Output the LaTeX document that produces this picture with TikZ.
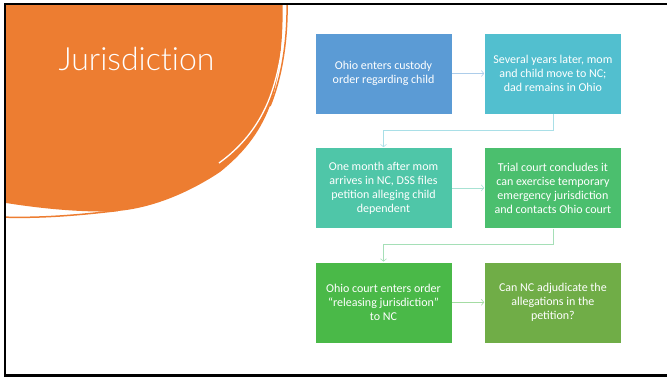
\documentclass[tikz,border=0pt]{standalone}
\usepackage{fontspec}
\setmainfont{Carlito}
\newfontfamily\titlefont{Lato Light}[Ligatures=NoCommon]
\usepackage{tikz}
\usetikzlibrary{positioning, arrows.meta}
\definecolor{jorange}{RGB}{237, 125, 49}
\definecolor{jblue}{RGB}{91, 155, 213}
\definecolor{jcyan}{RGB}{82, 191, 207}
\definecolor{jteal}{RGB}{79, 198, 168}
\definecolor{jmint}{RGB}{75, 191, 110}
\definecolor{jgreen}{RGB}{74, 185, 72}
\definecolor{jolive}{RGB}{112, 173, 71}
\tikzset{
  card/.style={minimum width=137pt, minimum height=81pt, inner sep=0pt, align=center,
    text=white, font=\fontsize{12}{14}\selectfont, draw=white, line width=0.4pt},
  link/.style={line width=0.6pt, -{Straight Barb[length=2.5pt, width=6pt]}}
}

\begin{document}
\begin{tikzpicture}[x=1pt, y=-1pt]
\newcommand{\cardgap}{32pt}
\newcommand{\rowgap}{33pt}
\useasboundingbox (0, 0) rectangle (667, 378);
\begin{scope}
\clip (5, 4) rectangle (667, 375);
\fill[jorange] (0, 0) -- (282.5, 0) .. controls (283.5, 40) and (279, 75) .. (272, 100)
  .. controls (262, 130) and (245, 152) .. (220, 172)
  .. controls (190, 192) and (150, 210) .. (110, 211.5)
  .. controls (70, 212) and (30, 207) .. (0, 202) -- cycle;
\draw[white, line width=1.3pt] (284.5, 0) .. controls (285.5, 45) and (277, 80) .. (268, 102)
  .. controls (257, 128) and (240, 148) .. (219, 163);
\draw[jorange, line width=1.5pt] (287, 0) .. controls (288, 45) and (280, 82) .. (270, 106);
\draw[jorange, line width=1.5pt] (0, 217) .. controls (40, 218.5) and (80, 215) .. (118, 210.5);
\end{scope}
\draw[line width=2.5pt] (667, 4) -- (5, 4) -- (5, 375.5) -- (667, 375.5);
\node[anchor=base west, text=white, font=\titlefont\fontsize{32}{38}\selectfont] (title) at (55, 70) {Jurisdiction};

\node[card, fill=jblue] (ohio) at (383.5, 73.5) {Ohio enters custody\\order regarding child};
\node[card, fill=jcyan, right=\cardgap of ohio] (move) {Several years later, mom\\and child move to NC;\\dad remains in Ohio};
\node[card, fill=jteal, below=\rowgap of ohio] (petition) {One month after mom\\arrives in NC, DSS files\\petition alleging child\\dependent};
\node[card, fill=jmint, right=\cardgap of petition] (emergency) {Trial court concludes it\\can exercise temporary\\emergency jurisdiction\\and contacts Ohio court};
\node[card, fill=jgreen, below=\rowgap of petition] (release) {Ohio court enters order\\“releasing jurisdiction”\\to NC};
\node[card, fill=jolive, right=\cardgap of release] (question) {Can NC adjudicate the\\allegations in the\\petition?};

\foreach \a/\b/\c in {ohio/move/jblue, petition/emergency/jteal, release/question/jgreen} {
  \draw[link, \c!50] (\a) -- (\b);
}
\draw[link, jcyan!50] (move.south) -- ++(0, 16) -| (petition.north);
\draw[link, jmint!50] (emergency.south) -- ++(0, 16) -| (release.north);
\end{tikzpicture}
\end{document}
